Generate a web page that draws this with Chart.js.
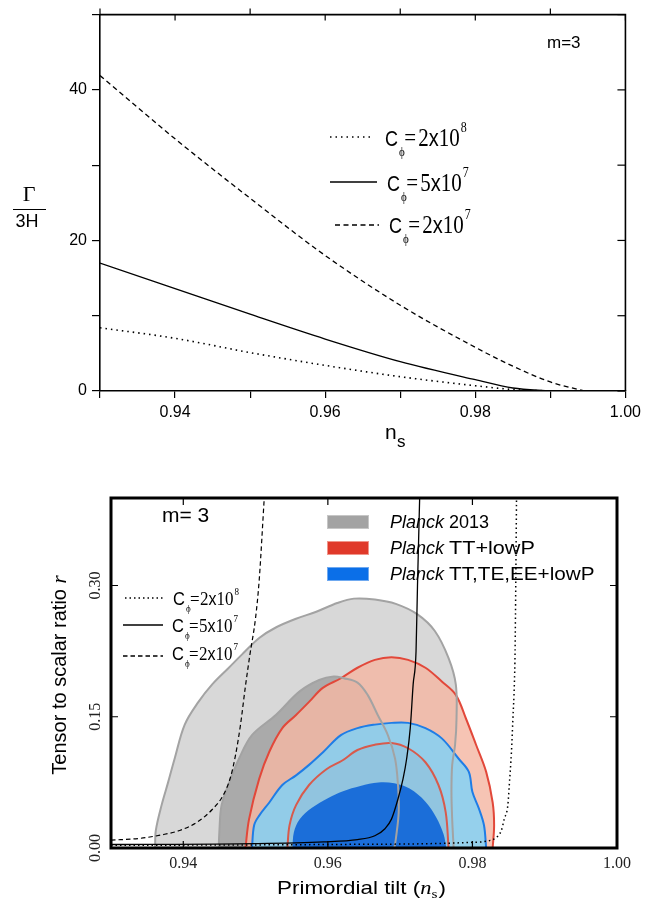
<!DOCTYPE html>
<html>
<head>
<meta charset="utf-8">
<script src="https://cdn.jsdelivr.net/npm/chart.js@4.4.1/dist/chart.umd.min.js"></script>
<style>
  body { margin: 0; background: #fff; width: 646px; height: 901px; overflow: hidden; position: relative; }
  .panel { position: absolute; left: 0; width: 646px; }
  #topPanel { top: 0; height: 456px; }
  #bottomPanel { top: 445px; height: 456px; }
</style>
</head>
<body>
<div class="panel" id="topPanel"><canvas id="gammaChart"></canvas></div>
<div class="panel" id="bottomPanel"><canvas id="tensorChart"></canvas></div>
<script>
// ---------- top panel: Gamma/3H against n_s ----------
const topNs = [0.93, 0.94, 0.95, 0.96, 0.97, 0.98, 0.985, 0.99, 0.9945];
const gammaC2e8 = [8.4, 7.0, 5.1, 3.4, 1.9, 0.7, 0.2, 0, null];
const gammaC5e7 = [17.0, 13.6, 10.2, 6.9, 3.9, 1.5, 0.4, 0, null];
const gammaC2e7 = [41.9, 33.5, 25.6, 18.0, 11.4, 5.8, 3.3, 1.2, 0];
const topXTicks = [0.93, 0.94, 0.95, 0.96, 0.97, 0.98, 0.99, 1.0];
const topXLabels = [0.94, 0.96, 0.98, 1.0];
const topYTicks = [0, 10, 20, 30, 40, 50];
const topYLabels = [0, 20, 40];

// ---------- bottom panel: r against n_s with Planck contours ----------
const dotNs = [0.930, 0.960, 0.980, 0.9823, 0.9833, 0.9840, 0.9844, 0.9849, 0.9851, 0.9854, 0.9856, 0.9858, 0.9859, 0.9861];
const dotR = [0.003, 0.004, 0.0065, 0.0084, 0.012, 0.020, 0.033, 0.049, 0.072, 0.110, 0.148, 0.187, 0.225, 0.400];
const solidNs = [0.930, 0.950, 0.9594, 0.9641, 0.9665, 0.9679, 0.9688, 0.9697, 0.9704, 0.9709, 0.9714, 0.9718, 0.9722, 0.9724, 0.9727];
const solidR = [0.004, 0.005, 0.007, 0.0096, 0.014, 0.022, 0.033, 0.056, 0.079, 0.102, 0.137, 0.187, 0.225, 0.300, 0.400];
const dashNs = [0.930, 0.934, 0.937, 0.9395, 0.942, 0.944, 0.9455, 0.9465, 0.9472, 0.9479, 0.9486, 0.9492, 0.9500, 0.9505, 0.9512];
const dashR = [0.009, 0.011, 0.015, 0.020, 0.030, 0.044, 0.060, 0.080, 0.105, 0.140, 0.185, 0.220, 0.263, 0.306, 0.400];

// Planck 2013, 95% and 68%
const p13Ns95 = [0.9361, 0.9362, 0.9370, 0.9379, 0.9388, 0.9402, 0.9421, 0.9440, 0.9463, 0.9481, 0.9505, 0.9528, 0.9556, 0.9584, 0.9613, 0.9636, 0.9665, 0.9694, 0.9724, 0.9748, 0.9767, 0.9777, 0.9778, 0.9776, 0.9772, 0.9771, 0.9772, 0.9774];
const p13R95 = [0, 0.020, 0.049, 0.075, 0.102, 0.141, 0.167, 0.187, 0.206, 0.221, 0.240, 0.252, 0.262, 0.270, 0.280, 0.285, 0.284, 0.279, 0.267, 0.248, 0.217, 0.187, 0.148, 0.118, 0.095, 0.064, 0.033, 0];
const p13Ns68 = [0.9449, 0.9450, 0.9453, 0.9465, 0.9477, 0.9495, 0.9528, 0.9561, 0.9588, 0.9608, 0.9622, 0.9641, 0.9655, 0.9669, 0.9683, 0.9693, 0.9697, 0.9698, 0.9694, 0.9692];
const p13R68 = [0, 0.020, 0.049, 0.078, 0.102, 0.129, 0.152, 0.179, 0.192, 0.196, 0.194, 0.189, 0.175, 0.152, 0.129, 0.102, 0.072, 0.041, 0.010, 0];
// Planck TT+lowP
const ttNs95 = [0.9486, 0.9491, 0.9505, 0.9519, 0.9537, 0.9556, 0.9574, 0.9593, 0.9618, 0.9641, 0.9665, 0.9688, 0.9711, 0.9735, 0.9758, 0.9777, 0.9791, 0.9805, 0.9819, 0.9828, 0.9830, 0.9828];
const ttR95 = [0, 0.033, 0.079, 0.110, 0.137, 0.152, 0.167, 0.183, 0.194, 0.206, 0.215, 0.218, 0.215, 0.206, 0.190, 0.175, 0.148, 0.118, 0.087, 0.052, 0.026, 0];
const ttNs68 = [0.9544, 0.9547, 0.9556, 0.9574, 0.9598, 0.9620, 0.9641, 0.9665, 0.9688, 0.9711, 0.9735, 0.9753, 0.9763, 0.9767];
const ttR68 = [0, 0.026, 0.049, 0.072, 0.090, 0.100, 0.112, 0.118, 0.120, 0.114, 0.098, 0.072, 0.041, 0];
// Planck TT,TE,EE+lowP
const allNs95 = [0.9495, 0.9498, 0.9505, 0.9519, 0.9537, 0.9556, 0.9574, 0.9594, 0.9618, 0.9641, 0.9665, 0.9688, 0.9711, 0.9735, 0.9758, 0.9781, 0.9795, 0.9800, 0.9809, 0.9816, 0.9819];
const allR95 = [0, 0.026, 0.037, 0.052, 0.072, 0.083, 0.095, 0.110, 0.129, 0.137, 0.141, 0.143, 0.143, 0.137, 0.125, 0.102, 0.087, 0.064, 0.045, 0.026, 0];
const allNs68 = [0.9551, 0.9553, 0.9561, 0.9578, 0.9600, 0.9621, 0.9645, 0.9670, 0.9692, 0.9713, 0.9735, 0.9750, 0.9760, 0.9764];
const allR68 = [0, 0.018, 0.033, 0.046, 0.057, 0.065, 0.071, 0.075, 0.074, 0.068, 0.053, 0.035, 0.016, 0];

const botXTicks = [0.94, 0.96, 0.98, 1.0];
const botYTicks = [0, 0.15, 0.30];

const SANS = '"Liberation Sans", Arial, sans-serif';
const SERIF = '"Liberation Serif", "Times New Roman", serif';

const pts = (xs, ys) => xs.map((x, i) => ({x: x, y: ys[i]})).filter(p => p.y !== null);

// C_phi = a x 10^b label, drawn piece by piece
function cLabel(ctx, x, base, coef, pow, s, cSize, stretch, gap) {
  ctx.save();
  ctx.translate(x, base);
  ctx.scale(1, stretch);
  ctx.fillStyle = '#000';
  ctx.textAlign = 'left';
  ctx.textBaseline = 'alphabetic';
  ctx.font = cSize + 'px ' + SANS;
  ctx.fillText('C', 0, 0);
  let cx = ctx.measureText('C').width;
  ctx.font = Math.round(s * 0.5) + 'px ' + SERIF;
  ctx.fillText('ϕ', cx + 1, s * 0.38);
  cx += s * 0.3;
  ctx.font = s + 'px ' + SERIF;
  ctx.fillText('=', cx, 0);
  cx += ctx.measureText('=').width + gap;
  ctx.fillText(coef, cx, 0);
  cx += ctx.measureText(coef).width;
  ctx.font = Math.round(s * 0.95) + 'px ' + SANS;
  ctx.fillText('x', cx, 0);
  cx += ctx.measureText('x').width;
  ctx.font = s + 'px ' + SERIF;
  ctx.fillText('10', cx, 0);
  cx += ctx.measureText('10').width;
  ctx.font = Math.round(s * 0.55) + 'px ' + SERIF;
  ctx.fillText(pow, cx + 1, -s * 0.55);
  ctx.restore();
}

function sampleLine(ctx, x0, x1, y, dash, w) {
  ctx.save();
  ctx.strokeStyle = '#000';
  ctx.lineWidth = w;
  ctx.setLineDash(dash);
  ctx.beginPath();
  ctx.moveTo(x0, y);
  ctx.lineTo(x1, y);
  ctx.stroke();
  ctx.restore();
}

const topDecor = {
  id: 'topDecor',
  afterDraw(chart) {
    const {ctx, chartArea: a, scales: {x, y}} = chart;
    ctx.save();
    ctx.strokeStyle = '#000';
    ctx.lineWidth = 1.6;
    ctx.beginPath();
    ctx.moveTo(a.left, a.top); ctx.lineTo(a.right, a.top); ctx.lineTo(a.right, a.bottom);
    ctx.stroke();
    ctx.lineWidth = 1.2;
    topXTicks.forEach(v => {
      const px = x.getPixelForValue(v);
      const inward = topXLabels.includes(v);
      ctx.beginPath();
      ctx.moveTo(px, a.top);
      ctx.lineTo(px, inward ? a.top + 6 : a.top - 6);
      ctx.stroke();
    });
    topYTicks.forEach(v => {
      const py = y.getPixelForValue(v);
      ctx.beginPath();
      ctx.moveTo(a.right, py);
      ctx.lineTo(a.right - 8, py);
      ctx.stroke();
    });
    // axis titles
    ctx.fillStyle = '#000';
    ctx.textAlign = 'center';
    ctx.textBaseline = 'alphabetic';
    ctx.font = '22px ' + SERIF;
    ctx.fillText('Γ', 29, 201);
    ctx.beginPath();
    ctx.lineWidth = 1;
    ctx.moveTo(13, 209.5); ctx.lineTo(46, 209.5);
    ctx.stroke();
    ctx.font = '18px ' + SANS;
    ctx.fillText('3H', 27, 227);
    ctx.textAlign = 'left';
    ctx.font = '21px ' + SANS;
    ctx.fillText('n', 385, 439);
    ctx.font = '17px ' + SANS;
    ctx.fillText('s', 397, 447);
    ctx.font = '17px ' + SANS;
    ctx.fillText('m=3', 547, 48);
    // legend
    sampleLine(ctx, 330, 374, 137, [1.5, 4], 1.5);
    sampleLine(ctx, 330, 377, 182, [], 1.3);
    sampleLine(ctx, 335, 379, 225, [5, 3.5], 1.3);
    cLabel(ctx, 385, 146, '2', '8', 21, 18, 1.22, 2);
    cLabel(ctx, 387, 191, '5', '7', 21, 18, 1.22, 2);
    cLabel(ctx, 389, 233, '2', '7', 21, 18, 1.22, 2);
    ctx.restore();
  }
};

new Chart(document.getElementById('gammaChart'), {
  type: 'line',
  data: {
    datasets: [
      {label: 'C = 2x10^8', data: pts(topNs, gammaC2e8), borderColor: '#000', borderWidth: 1.6, borderDash: [1.5, 4], pointRadius: 0, cubicInterpolationMode: 'monotone', fill: false},
      {label: 'C = 5x10^7', data: pts(topNs, gammaC5e7), borderColor: '#000', borderWidth: 1.3, pointRadius: 0, cubicInterpolationMode: 'monotone', fill: false},
      {label: 'C = 2x10^7', data: pts(topNs, gammaC2e7), borderColor: '#000', borderWidth: 1.3, borderDash: [5, 3.5], pointRadius: 0, cubicInterpolationMode: 'monotone', fill: false}
    ]
  },
  options: {
    responsive: true,
    maintainAspectRatio: false,
    animation: false,
    layout: {padding: {top: 13, right: 19, left: 0, bottom: 0}},
    plugins: {legend: {display: false}, tooltip: {enabled: false}},
    scales: {
      x: {
        type: 'linear', min: 0.93, max: 1.0,
        afterBuildTicks: s => { s.ticks = topXTicks.map(v => ({value: v})); },
        afterFit: s => { s.height = 65; },
        grid: {drawOnChartArea: false, color: '#000', lineWidth: 1.2, tickLength: 7},
        border: {color: '#000', width: 1.6},
        ticks: {color: '#000', font: {family: SANS, size: 16}, padding: 5, maxRotation: 0, autoSkip: false,
          callback: v => topXLabels.includes(v) ? v.toFixed(2) : ''}
      },
      y: {
        type: 'linear', min: 0, max: 50,
        afterBuildTicks: s => { s.ticks = topYTicks.map(v => ({value: v})); },
        afterFit: s => { s.width = 100; },
        grid: {drawOnChartArea: false, color: '#000', lineWidth: 1.2, tickLength: 8},
        border: {color: '#000', width: 1.6},
        ticks: {color: '#000', font: {family: SANS, size: 16}, padding: 5,
          callback: v => topYLabels.includes(v) ? String(v) : ''}
      }
    }
  },
  plugins: [topDecor]
});

const bottomDecor = {
  id: 'bottomDecor',
  afterDraw(chart) {
    const {ctx, chartArea: a, scales: {x, y}} = chart;
    ctx.save();
    ctx.strokeStyle = '#000';
    ctx.lineWidth = 1.2;
    [0.94, 0.96, 0.98].forEach(v => {
      const px = x.getPixelForValue(v);
      ctx.beginPath();
      ctx.moveTo(px, a.bottom); ctx.lineTo(px, a.bottom - 7);
      ctx.moveTo(px, a.top); ctx.lineTo(px, a.top + 7);
      ctx.stroke();
    });
    [0.15, 0.30].forEach(v => {
      const py = y.getPixelForValue(v);
      ctx.beginPath();
      ctx.moveTo(a.left, py); ctx.lineTo(a.left + 7, py);
      ctx.moveTo(a.right, py); ctx.lineTo(a.right - 7, py);
      ctx.stroke();
    });
    ctx.lineWidth = 3;
    ctx.strokeRect(a.left, a.top, a.right - a.left, a.bottom - a.top);
    // rotated y tick labels
    ctx.fillStyle = '#222';
    ctx.font = '16px ' + SERIF;
    ctx.textAlign = 'center';
    ctx.textBaseline = 'middle';
    botYTicks.forEach(v => {
      ctx.save();
      ctx.translate(96, y.getPixelForValue(v));
      ctx.rotate(-Math.PI / 2);
      ctx.fillText(v.toFixed(2), 0, 0);
      ctx.restore();
    });
    // y title
    ctx.save();
    ctx.translate(66, (a.top + a.bottom) / 2 + 2);
    ctx.rotate(-Math.PI / 2);
    ctx.fillStyle = '#000';
    ctx.textBaseline = 'alphabetic';
    ctx.textAlign = 'left';
    ctx.font = '20px ' + SANS;
    const yt = 'Tensor to scalar ratio ';
    const ytw = ctx.measureText(yt).width;
    ctx.font = 'italic 21px ' + SERIF;
    const rw = ctx.measureText('r').width;
    let sx = -(ytw + rw) / 2;
    ctx.font = '20px ' + SANS;
    ctx.fillText(yt, sx, 0);
    ctx.font = 'italic 21px ' + SERIF;
    ctx.fillText('r', sx + ytw, 0);
    ctx.restore();
    // x title
    ctx.save();
    ctx.fillStyle = '#000';
    ctx.textAlign = 'left';
    ctx.textBaseline = 'alphabetic';
    ctx.translate(277, 449);
    ctx.scale(1.18, 1);
    ctx.font = '19px ' + SANS;
    const xt = 'Primordial tilt (';
    ctx.fillText(xt, 0, 0);
    let cx = ctx.measureText(xt).width;
    ctx.font = 'italic 19px ' + SERIF;
    ctx.fillText('n', cx, 0);
    cx += ctx.measureText('n').width;
    ctx.font = '13px ' + SERIF;
    ctx.fillText('s', cx, 4);
    cx += ctx.measureText('s').width + 1;
    ctx.font = '19px ' + SANS;
    ctx.fillText(')', cx, 0);
    ctx.restore();
    // m = 3
    ctx.fillStyle = '#000';
    ctx.textAlign = 'left';
    ctx.textBaseline = 'alphabetic';
    ctx.font = '21px ' + SANS;
    ctx.fillText('m= 3', 162, 77);
    // Planck legend
    const swatches = [['#a3a3a3', '#c6c6c6', '2013', 1.0], ['#e0392a', '#f0958a', 'TT+lowP', 1.2], ['#0b6fe8', '#6fa9f0', 'TT,TE,EE+lowP', 1.15]];
    swatches.forEach((sw, i) => {
      const top = 70 + i * 26;
      ctx.fillStyle = sw[0];
      ctx.fillRect(327, top, 42, 14);
      ctx.strokeStyle = sw[1];
      ctx.lineWidth = 1;
      ctx.strokeRect(327.5, top + 0.5, 41, 13);
      ctx.fillStyle = '#000';
      ctx.font = 'italic 18px ' + SANS;
      ctx.fillText('Planck', 390, top + 13);
      const pw = ctx.measureText('Planck ').width;
      ctx.save();
      ctx.translate(390 + pw, top + 13);
      ctx.scale(sw[3], 1);
      ctx.font = '18px ' + SANS;
      ctx.fillText(sw[2], 0, 0);
      ctx.restore();
    });
    // model legend
    sampleLine(ctx, 125, 165, 153, [1.5, 3], 1.3);
    sampleLine(ctx, 123, 163, 180, [], 1.3);
    sampleLine(ctx, 123, 163, 211, [4.5, 3], 1.3);
    cLabel(ctx, 173, 160, '2', '8', 17, 16.5, 1.1, 0.5);
    cLabel(ctx, 172, 187, '5', '7', 17, 16.5, 1.1, 0.5);
    cLabel(ctx, 172, 215, '2', '7', 17, 16.5, 1.1, 0.5);
    ctx.restore();
  }
};

const region = (xs, ys, color, order) => ({
  data: pts(xs, ys), fill: 'shape', backgroundColor: color, borderWidth: 0,
  borderColor: 'transparent', pointRadius: 0, tension: 0.35, order: order
});
const outline = (xs, ys, color, order) => ({
  data: pts(xs, ys), fill: false, borderColor: color, borderWidth: 2,
  pointRadius: 0, tension: 0.35, order: order
});
const model = (xs, ys, dash, w) => ({
  data: pts(xs, ys), fill: false, borderColor: '#000', borderWidth: w, borderDash: dash,
  pointRadius: 0, cubicInterpolationMode: 'monotone', order: 0
});

new Chart(document.getElementById('tensorChart'), {
  type: 'line',
  data: {
    datasets: [
      region(p13Ns95, p13R95, '#d8d8d8', 20),
      region(p13Ns68, p13R68, '#aaaaaa', 19),
      region(ttNs95, ttR95, 'rgba(244,183,164,0.82)', 18),
      region(ttNs68, ttR68, 'rgba(225,140,120,0.8)', 17),
      region(allNs95, allR95, 'rgba(118,212,255,0.75)', 16),
      region(allNs68, allR68, 'rgba(22,106,217,0.96)', 15),
      outline(ttNs95, ttR95, '#e2483a', 6),
      outline(ttNs68, ttR68, '#d85a4c', 6),
      outline(allNs95, allR95, '#1f7de6', 5),
      outline(p13Ns95, p13R95, '#a3a3a3', 4),
      outline(p13Ns68, p13R68, '#a3a3a3', 4),
      model(dotNs, dotR, [1.5, 3], 1.5),
      model(solidNs, solidR, [], 1.3),
      model(dashNs, dashR, [4.5, 3], 1.2)
    ]
  },
  options: {
    responsive: true,
    maintainAspectRatio: false,
    animation: false,
    layout: {padding: {top: 53, right: 29, left: 0, bottom: 0}},
    plugins: {legend: {display: false}, tooltip: {enabled: false}},
    scales: {
      x: {
        type: 'linear', min: 0.93, max: 1.0,
        afterBuildTicks: s => { s.ticks = botXTicks.map(v => ({value: v})); },
        afterFit: s => { s.height = 53; },
        grid: {display: false, drawTicks: false},
        border: {display: false},
        ticks: {color: '#222', font: {family: SERIF, size: 16}, padding: 6, maxRotation: 0, autoSkip: false,
          callback: v => v.toFixed(2)}
      },
      y: {
        type: 'linear', min: 0, max: 0.40,
        afterBuildTicks: s => { s.ticks = botYTicks.map(v => ({value: v})); },
        afterFit: s => { s.width = 111; },
        grid: {display: false, drawTicks: false},
        border: {display: false},
        ticks: {display: false}
      }
    }
  },
  plugins: [bottomDecor]
});
</script>
</body>
</html>
